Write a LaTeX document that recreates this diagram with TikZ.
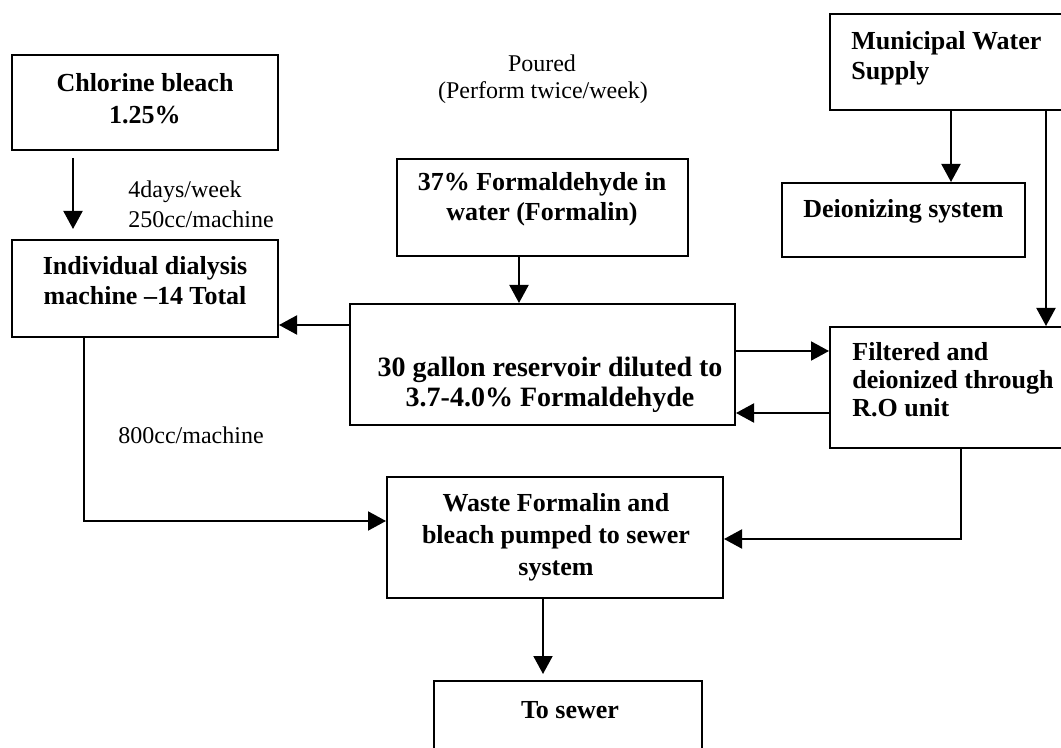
\documentclass[tikz,border=0pt]{standalone}
\usepackage{fontspec}
\setmainfont{Liberation Serif}
\usetikzlibrary{arrows.meta,calc}
\begin{document}
\begin{tikzpicture}[x=0.5pt,y=-0.5pt,
  box/.style={draw, line width=1pt, inner sep=0pt},
  btxt/.style={font=\fontsize{13}{15}\selectfont\bfseries, align=center, inner sep=0pt},
  ltxt/.style={font=\fontsize{12}{14}\selectfont, inner sep=0pt},
  conn/.style={line width=1pt, -{Triangle[length=9pt,width=9.5pt]}}]
\fill[white] (0,0) rectangle (1061,748);
\useasboundingbox (0,0) rectangle (1061,748);
\clip (0,0) rectangle (1061,748);

% boxes
\node[box, minimum width=133pt, minimum height=47.5pt] (chl) at (145,102.5) {};
\node[box, minimum width=133pt, minimum height=48.5pt] (dial) at (145,288.5) {};
\node[box, minimum width=145.5pt, minimum height=48.5pt] (form) at (542.5,207.5) {};
\node[box, minimum width=192.5pt, minimum height=60.5pt] (res) at (542.5,364.5) {};
\node[box, minimum width=135pt, minimum height=48pt] (mun) at (965,62) {};
\node[box, minimum width=121.5pt, minimum height=37pt] (deion) at (903.5,220) {};
\node[box, minimum width=135pt, minimum height=60.5pt] (filt) at (965,387.5) {};
\node[box, minimum width=168pt, minimum height=60.5pt] (waste) at (555,537.5) {};
\node[box, minimum width=134pt, minimum height=59.5pt] (sewer) at (568,740.5) {};

% box texts
\node[btxt, font=\fontsize{13}{16}\selectfont\bfseries] (chlT) at (145,99) {Chlorine bleach\\1.25\%};
\node[btxt] (dialT) at (145,281) {Individual dialysis\\machine –14 Total};
\node[btxt] (formT) at (542,199) {37\% Formaldehyde in\\water (Formalin)};
\node[btxt, font=\fontsize{14}{15}\selectfont\bfseries] (resT) at (550,385) {30 gallon reservoir diluted to\\3.7-4.0\% Formaldehyde};
\node[btxt, align=left, anchor=west] (munT) at (851,58) {Municipal Water\\Supply};
\node[btxt, align=left, anchor=west] (deionT) at (803,211) {Deionizing system};
\node[btxt, align=left, anchor=west, font=\fontsize{13}{14}\selectfont\bfseries] (filtT) at (852,380) {Filtered and\\deionized through\\R.O unit};
\node[btxt, font=\fontsize{13}{16}\selectfont\bfseries] (wasteT) at (556,537) {Waste Formalin and\\bleach pumped to sewer\\system};
\node[btxt] (sewerT) at (570,710) {To sewer};

% free labels
\node[ltxt, anchor=west] (lab1) at (128,192) {4days/week};
\node[ltxt, anchor=west] (lab2) at (128,219) {250cc/machine};
\node[ltxt, anchor=west] (lab3) at (118,435) {800cc/machine};
\node[ltxt] (lab4) at (542,63) {Poured};
\node[ltxt] (lab5) at (543,93) {(Perform twice/week)};

% helper coordinates
\coordinate (xa) at (73,0);
\coordinate (xb) at (519,0);
\coordinate (xc) at (951,0);
\coordinate (xd) at (1046,0);
\coordinate (xe) at (84,0);
\coordinate (xf) at (961,0);
\coordinate (xg) at (543,0);
\coordinate (ya) at (0,325);
\coordinate (yb) at (0,351);
\coordinate (yc) at (0,413);
\coordinate (yd) at (0,521);
\coordinate (ye) at (0,539);

% connectors
\draw[conn, shorten <=3.5pt, shorten >=5pt] (chl.south -| xa) -- (dial.north -| xa);
\draw[conn] (form.south -| xb) -- (res.north -| xb);
\draw[conn] (res.west |- ya) -- (dial.east |- ya);
\draw[conn] (res.east |- yb) -- (filt.west |- yb);
\draw[conn] (filt.west |- yc) -- (res.east |- yc);
\draw[conn] (mun.south -| xc) -- (deion.north -| xc);
\draw[conn] (mun.south -| xd) -- (filt.north -| xd);
\draw[conn] (dial.south -| xe) |- (waste.west |- yd);
\draw[conn] (filt.south -| xf) |- (waste.east |- ye);
\draw[conn, shorten >=3pt] (waste.south -| xg) -- (sewer.north -| xg);
\end{tikzpicture}
\end{document}
